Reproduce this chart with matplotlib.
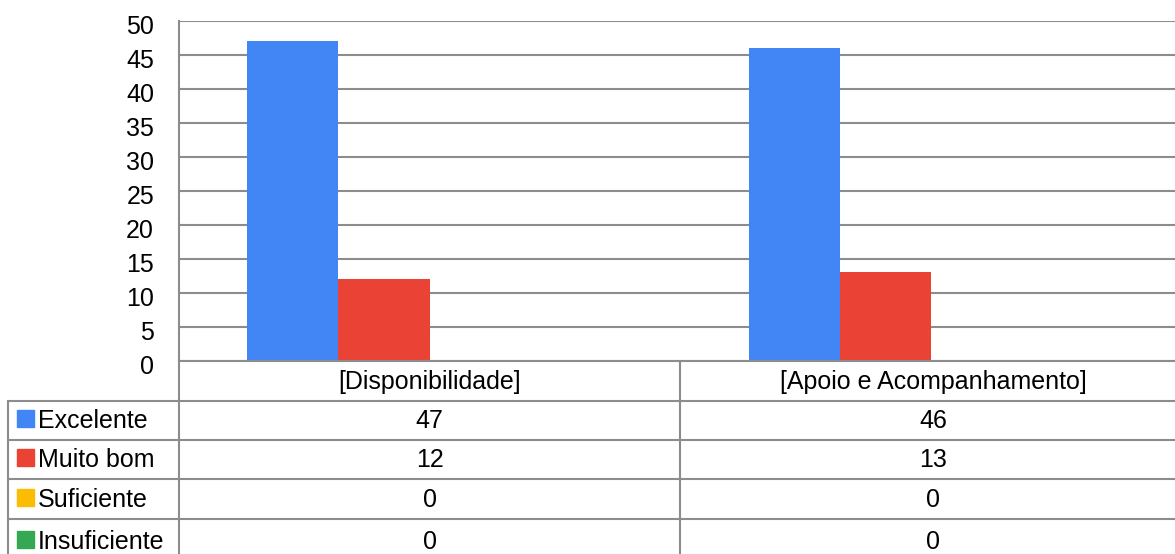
import numpy as np
import matplotlib
matplotlib.use("Agg")
import matplotlib.pyplot as plt
import matplotlib.transforms as mtransforms

plt.rcParams['font.family'] = ['Liberation Sans', 'DejaVu Sans']

# data
categories = ['[Disponibilidade]', '[Apoio e Acompanhamento]']
series = ['Excelente', 'Muito bom', 'Suficiente', 'Insuficiente']
values = [
    [47, 46],   # Excelente
    [12, 13],   # Muito bom
    [0, 0],     # Suficiente
    [0, 0],     # Insuficiente
]
colors = ['#4285F4', '#EA4335', '#FBBC04', '#34A853']
yticks = np.arange(0, 55, 5)

W, H = 1175, 554
fig = plt.figure(figsize=(W / 100, H / 100), dpi=100)

# plot area in pixels
left, right, top, bottom = 179, 1182, 21, 360.5
ax = fig.add_axes([left / W, 1 - bottom / H, (right - left) / W, (bottom - top) / H])

grid_col = '#8c8c8c'
n = len(series)
bw = 0.182
x = np.arange(len(categories))
for i, name in enumerate(series):
    offs = (i - (n - 1) / 2) * bw
    ax.bar(x + offs, values[i], width=bw, color=colors[i], zorder=3)

ax.set_xlim(-0.5, len(categories) - 0.5)
ax.set_ylim(0, 50)
ax.set_yticks(yticks)
ax.set_yticklabels([str(v) for v in yticks], fontsize=18)
ax.tick_params(axis='y', length=0, pad=18)
# labels sit a few pixels below their gridlines in the reference
shift = mtransforms.ScaledTranslation(0, -4 / 100, fig.dpi_scale_trans)
for lbl in ax.get_yticklabels():
    lbl.set_transform(lbl.get_transform() + shift)
ax.set_xticks([])
ax.yaxis.grid(True, color=grid_col, linewidth=1.5, zorder=0)
for s in ['top', 'right', 'bottom']:
    ax.spines[s].set_visible(False)
ax.spines['left'].set_color(grid_col)
ax.spines['left'].set_linewidth(1.5)

# data table drawn in a pixel-coordinate overlay
tb = fig.add_axes([0, 0, 1, 1])
tb.set_xlim(0, W)
tb.set_ylim(H, 0)
tb.axis('off')

line_kw = dict(color=grid_col, linewidth=1.5)
row_edges = [401, 439.5, 479, 519, 559]
col_left, col_mid, col_right = 8, 680, right
tb.plot([left, col_right], [361, 361], **line_kw)
for yy in row_edges:
    tb.plot([col_left, col_right], [yy, yy], **line_kw)
tb.plot([col_left, col_left], [401, 559], **line_kw)
tb.plot([left, left], [361, 559], **line_kw)
tb.plot([col_mid, col_mid], [361, 559], **line_kw)

col_centers = [(left + col_mid) / 2, (col_mid + col_right) / 2 + 2]
for j, cat in enumerate(categories):
    tb.text(col_centers[j], 382, cat, fontsize=18, ha='center', va='center')

for i, name in enumerate(series):
    yc = (row_edges[i] + row_edges[i + 1]) / 2
    if i == len(series) - 1:
        yc = 541
    tb.add_patch(plt.Rectangle((17, yc - 10), 17, 17, color=colors[i]))
    tb.text(38, yc + 1, name, fontsize=18, ha='left', va='center')
    for j in range(len(categories)):
        tb.text(col_centers[j], yc + 1, str(values[i][j]), fontsize=18,
                ha='center', va='center')

fig.savefig('out.png', dpi=100)
